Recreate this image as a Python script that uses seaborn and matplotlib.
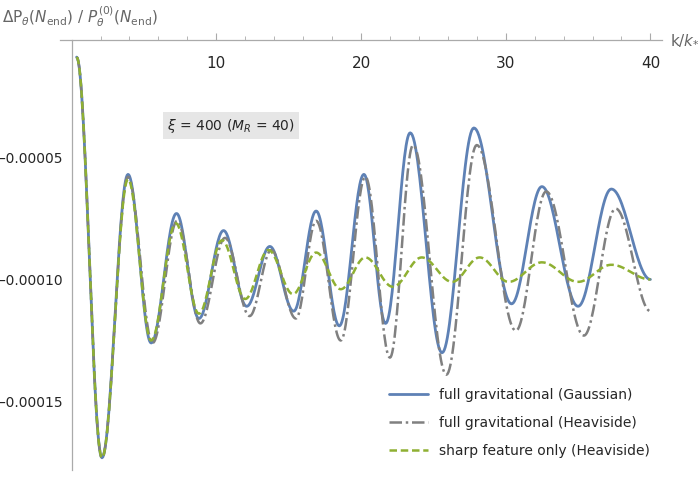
import matplotlib
matplotlib.use('Agg')
import matplotlib.pyplot as plt
import seaborn as sns
import numpy as np
import pandas as pd

# extrema of each curve (k/k*, value in units of 1e-5)
k_gauss = [0.35, 2.1, 3.9, 5.5, 7.25, 8.8, 10.5, 12.1, 13.7, 15.35, 16.9, 18.5, 20.2, 21.7, 23.4, 25.6, 27.8, 30.4, 32.5, 35.0, 37.3, 40.0]
v_gauss = [-0.9, -17.3, -5.7, -12.6, -7.3, -11.6, -8.0, -11.1, -8.65, -11.3, -7.2, -11.9, -5.7, -11.8, -4.0, -13.0, -3.8, -11.0, -6.2, -11.1, -6.3, -10.0]

k_heavi = [0.35, 2.1, 3.9, 5.6, 7.3, 8.9, 10.6, 12.3, 13.8, 15.5, 16.9, 18.6, 20.3, 22.0, 23.6, 25.9, 28.0, 30.7, 32.8, 35.4, 37.6, 40.0]
v_heavi = [-0.9, -17.3, -5.8, -12.6, -7.6, -11.8, -8.3, -11.5, -8.8, -11.6, -7.6, -12.5, -5.8, -13.2, -4.5, -13.9, -4.5, -12.1, -6.4, -12.3, -7.1, -11.3]

k_sharp = [0.35, 2.1, 3.9, 5.5, 7.2, 8.8, 10.4, 12.0, 13.6, 15.3, 16.9, 18.6, 20.3, 22.2, 24.2, 26.3, 28.2, 30.2, 32.5, 35.0, 37.3, 40.0]
v_sharp = [-0.9, -17.3, -5.9, -12.5, -7.7, -11.4, -8.4, -10.8, -8.8, -10.6, -8.9, -10.4, -9.1, -10.3, -9.1, -10.1, -9.1, -10.1, -9.3, -10.1, -9.4, -10.0]

labels = ['full gravitational (Gaussian)', 'full gravitational (Heaviside)', 'sharp feature only (Heaviside)']


def smooth(ks, vs, n=30):
    # half-cosine segments between consecutive extrema
    xs, ys = [], []
    for i in range(len(ks) - 1):
        t = np.linspace(0, 1, n, endpoint=False)
        xs.append(ks[i] + (ks[i + 1] - ks[i]) * t)
        ys.append(vs[i] + (vs[i + 1] - vs[i]) * (1 - np.cos(np.pi * t)) / 2)
    xs.append([ks[-1]])
    ys.append([vs[-1]])
    return np.concatenate(xs), np.concatenate(ys) * 1e-5


frames = []
for ks, vs, lab in [(k_gauss, v_gauss, labels[0]), (k_heavi, v_heavi, labels[1]), (k_sharp, v_sharp, labels[2])]:
    x, y = smooth(ks, vs)
    frames.append(pd.DataFrame({'k': x, 'v': y, 'curve': lab}))
df = pd.concat(frames)

sns.set_style('white')
plt.rcParams['font.family'] = ['DejaVu Sans']

fig = plt.figure(figsize=(6.98, 4.84), dpi=100)
ax = fig.add_axes([60 / 698, 1 - 470 / 484, 602 / 698, 430 / 484])

palette = {labels[0]: '#5E81B5', labels[1]: '#808080', labels[2]: '#8FB032'}
sns.lineplot(data=df, x='k', y='v', hue='curve', palette=palette, sort=False, ax=ax, estimator=None, legend=False)
lines = ax.get_lines()
styles = [dict(lw=2.0, dashes=None), dict(lw=1.8, dashes=(5, 1.5, 1, 1.5)), dict(lw=1.8, dashes=(3, 1.5))]
for l, st in zip(lines, styles):
    l.set_linewidth(st['lw'])
    if st['dashes']:
        l.set_dashes(st['dashes'])
lines[1].set_zorder(3)
lines[2].set_zorder(4)

ax.set_xlim(-0.8, 40.8)
ax.set_ylim(-17.8e-5, -0.2e-5)

for s in ['bottom', 'right']:
    ax.spines[s].set_visible(False)
ax.spines['left'].set_position(('data', 0))
for s in ['top', 'left']:
    ax.spines[s].set_color('#aaaaaa')
    ax.spines[s].set_linewidth(0.9)

ax.xaxis.set_ticks_position('top')
ax.set_xticks([10, 20, 30, 40])
ax.set_xticks(np.arange(2, 41, 2), minor=True)
ax.tick_params(axis='x', which='both', direction='out', color='#aaaaaa', pad=-27, labelsize=11)
ax.tick_params(axis='x', which='major', length=5)
ax.tick_params(axis='x', which='minor', length=3)

ax.set_yticks([-5e-5, -10e-5, -15e-5])
ax.set_yticklabels(['\u22120.00005', '\u22120.00010', '\u22120.00015'])
ax.set_yticks(np.arange(-17e-5, -0.5e-5, 1e-5), minor=True)
ax.tick_params(axis='y', which='both', direction='in', color='#aaaaaa', labelsize=10, pad=6)
ax.tick_params(axis='y', which='major', length=5)
ax.tick_params(axis='y', which='minor', length=3)
ax.set_xlabel('')
ax.set_ylabel('')

fig.text(2 / 698, 1 - 17 / 484, r'$\Delta\mathrm{P}_{\theta}(N_{\mathrm{end}})\ /\ P_{\theta}^{(0)}(N_{\mathrm{end}})$',
         color='#666666', fontsize=11, va='center', ha='left')
fig.text(670 / 698, 1 - 40 / 484, r'$\mathrm{k}/k_{*}$', color='#666666', fontsize=11, va='center', ha='left')

ax.text(6.6, -3.7e-5, r'$\xi$ = 400 ($M_R$ = 40)', fontsize=10, va='center', ha='left',
        bbox=dict(facecolor='#e6e6e6', edgecolor='none', pad=3))

leg = ax.legend(lines, labels, loc='lower right', frameon=False, fontsize=10, handlelength=2.8,
                labelspacing=1.0, bbox_to_anchor=(1.0, 0.0))

fig.savefig('out.png', dpi=100)
